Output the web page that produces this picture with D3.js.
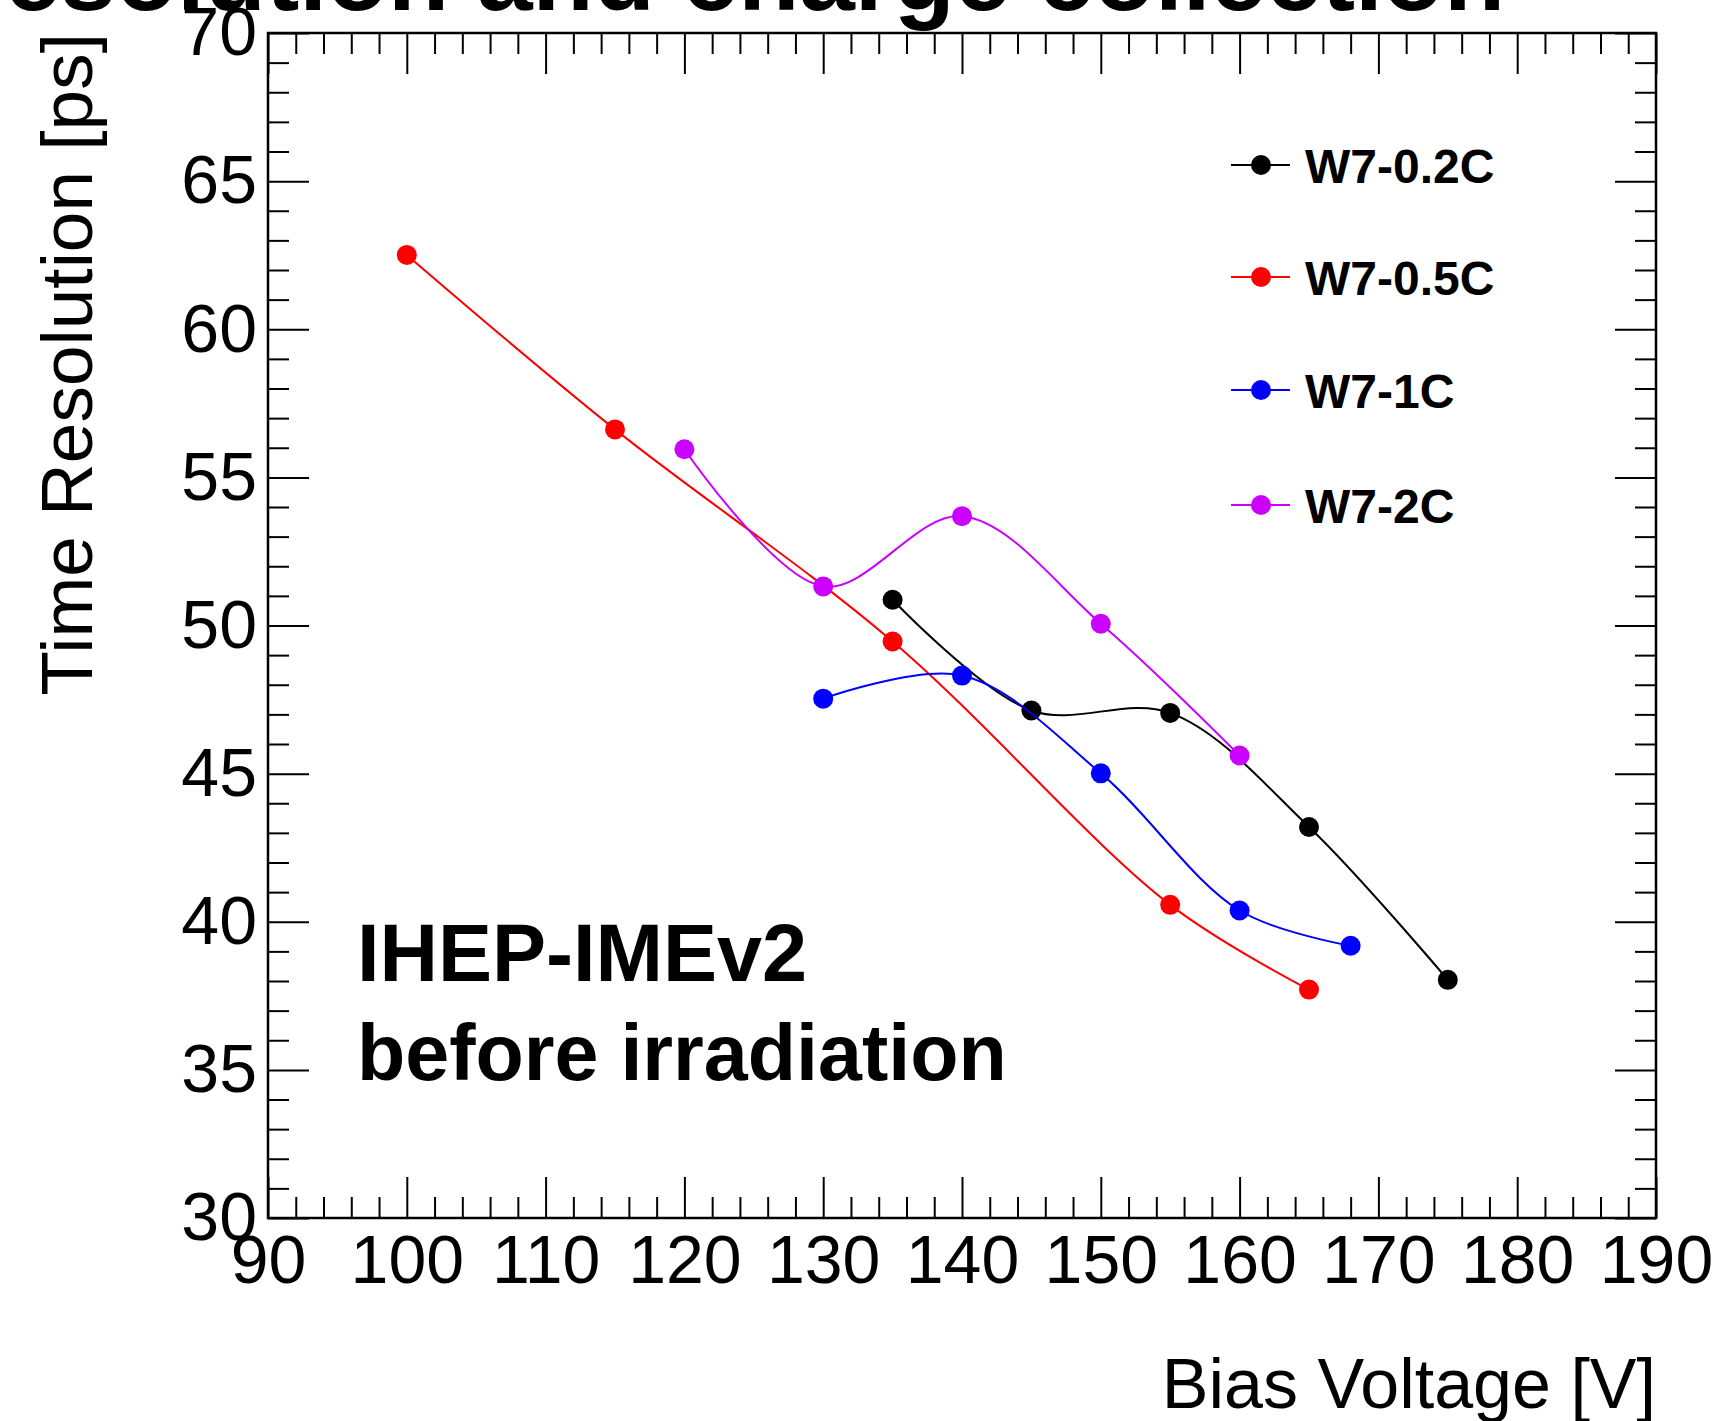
<!DOCTYPE html>
<meta charset="utf-8">
<style>
  body { margin: 0; background: white; }
  svg text { font-family: 'Liberation Sans', Arial, Helvetica, sans-serif; fill: black; }
  .axis path { display: none; }
  .axis line { stroke: black; stroke-width: 2px; }
  .axis text { font-size: 68px; }
</style>
<svg width="1722" height="1421"></svg>
<script src="https://d3js.org/d3.v7.min.js"></script>
<script>

// bias voltage [V] and time resolution [ps] for each sensor
var names = ["W7-0.2C", "W7-0.5C", "W7-1C", "W7-2C"];
var colors = ["#000000", "#ff0000", "#0000ff", "#cc00ff"];

var volt_02C = [135, 145, 155, 165, 175];
var res_02C  = [50.87, 47.13, 47.05, 43.2, 38.04];

var volt_05C = [100, 115, 135, 155, 165];
var res_05C  = [62.51, 56.62, 49.46, 40.57, 37.71];

var volt_1C = [130, 140, 150, 160, 168];
var res_1C  = [47.53, 48.31, 45.01, 40.38, 39.19];

var volt_2C = [120, 130, 140, 150, 160];
var res_2C  = [55.95, 51.32, 53.69, 50.06, 45.61];

var xTicks = [90, 100, 110, 120, 130, 140, 150, 160, 170, 180, 190];
var yTicks = [30, 35, 40, 45, 50, 55, 60, 65, 70];

var volts = [volt_02C, volt_05C, volt_1C, volt_2C];
var resos = [res_02C, res_05C, res_1C, res_2C];

var svg = d3.select("svg"),
    margin = { top: 33, right: 66, bottom: 203, left: 268 },
    width = +svg.attr("width") - margin.left - margin.right,
    height = +svg.attr("height") - margin.top - margin.bottom,
    g = svg.append("g").attr("transform", "translate(" + margin.left + "," + margin.top + ")");

var x = d3.scaleLinear().domain([90, 190]).range([0, width]);
var y = d3.scaleLinear().domain([30, 70]).range([height, 0]);

var xMinor = d3.range(90, 191, 2).filter(function (v) { return v % 10 != 0; });
var yMinor = d3.range(30, 71, 1).filter(function (v) { return v % 5 != 0; });

// title, mostly cut off at the top of the canvas
svg.append("text")
    .attr("x", 1505)
    .attr("y", 10)
    .attr("text-anchor", "end")
    .style("font-size", "100px")
    .style("font-weight", "bold")
    .text("Time resolution and charge collection");

// axes, ticks inward like ROOT
g.append("g").attr("class", "axis")
    .attr("transform", "translate(0," + height + ")")
    .call(d3.axisBottom(x).tickValues(xTicks).tickSize(-41).tickPadding(17).tickFormat(d3.format("d")));
g.append("g").attr("class", "axis")
    .attr("transform", "translate(0," + height + ")")
    .call(d3.axisBottom(x).tickValues(xMinor).tickSize(-21).tickFormat(""));
g.append("g").attr("class", "axis")
    .call(d3.axisTop(x).tickValues(xTicks).tickSize(-41).tickFormat(""));
g.append("g").attr("class", "axis")
    .call(d3.axisTop(x).tickValues(xMinor).tickSize(-21).tickFormat(""));

g.append("g").attr("class", "axis")
    .call(d3.axisLeft(y).tickValues(yTicks).tickSize(-41).tickPadding(11).tickFormat(d3.format("d")));
g.append("g").attr("class", "axis")
    .call(d3.axisLeft(y).tickValues(yMinor).tickSize(-21).tickFormat(""));
g.append("g").attr("class", "axis")
    .attr("transform", "translate(" + width + ",0)")
    .call(d3.axisRight(y).tickValues(yTicks).tickSize(-41).tickFormat(""));
g.append("g").attr("class", "axis")
    .attr("transform", "translate(" + width + ",0)")
    .call(d3.axisRight(y).tickValues(yMinor).tickSize(-21).tickFormat(""));

g.append("rect")
    .attr("width", width)
    .attr("height", height)
    .style("fill", "none")
    .style("stroke", "black")
    .style("stroke-width", 2.5);

// axis titles
svg.append("text")
    .attr("x", margin.left + width)
    .attr("y", 1408)
    .attr("text-anchor", "end")
    .style("font-size", "70px")
    .text("Bias Voltage [V]");

svg.append("text")
    .attr("transform", "translate(92,33) rotate(-90)")
    .attr("text-anchor", "end")
    .style("font-size", "73px")
    .text("Time Resolution [ps]");

// smooth curves + markers
var line = d3.line()
    .x(function (d) { return x(d[0]); })
    .y(function (d) { return y(d[1]); })
    .curve(d3.curveCatmullRom);

names.forEach(function (name, i) {
    var pts = volts[i].map(function (v, j) { return [v, resos[i][j]]; });
    g.append("path")
        .datum(pts)
        .attr("d", line)
        .style("fill", "none")
        .style("stroke", colors[i])
        .style("stroke-width", 2);
    g.selectAll(".m" + i)
        .data(pts)
        .enter().append("circle")
        .attr("class", "m" + i)
        .attr("cx", function (d) { return x(d[0]); })
        .attr("cy", function (d) { return y(d[1]); })
        .attr("r", 10)
        .style("fill", colors[i]);
});

// legend
var legendY = [183, 295, 408, 523];
names.forEach(function (name, i) {
    var ly = legendY[i] - 18;
    svg.append("line")
        .attr("x1", 1231).attr("x2", 1290)
        .attr("y1", ly).attr("y2", ly)
        .style("stroke", colors[i])
        .style("stroke-width", 2);
    svg.append("circle")
        .attr("cx", 1261).attr("cy", ly).attr("r", 10)
        .style("fill", colors[i]);
    svg.append("text")
        .attr("x", 1305).attr("y", legendY[i])
        .style("font-size", "48px")
        .style("font-weight", "bold")
        .text(name);
});

// annotation
svg.append("text")
    .attr("x", 357).attr("y", 981)
    .style("font-size", "81px")
    .style("font-weight", "bold")
    .text("IHEP-IMEv2");
svg.append("text")
    .attr("x", 357).attr("y", 1080)
    .style("font-size", "79px")
    .style("font-weight", "bold")
    .text("before irradiation");

</script>
